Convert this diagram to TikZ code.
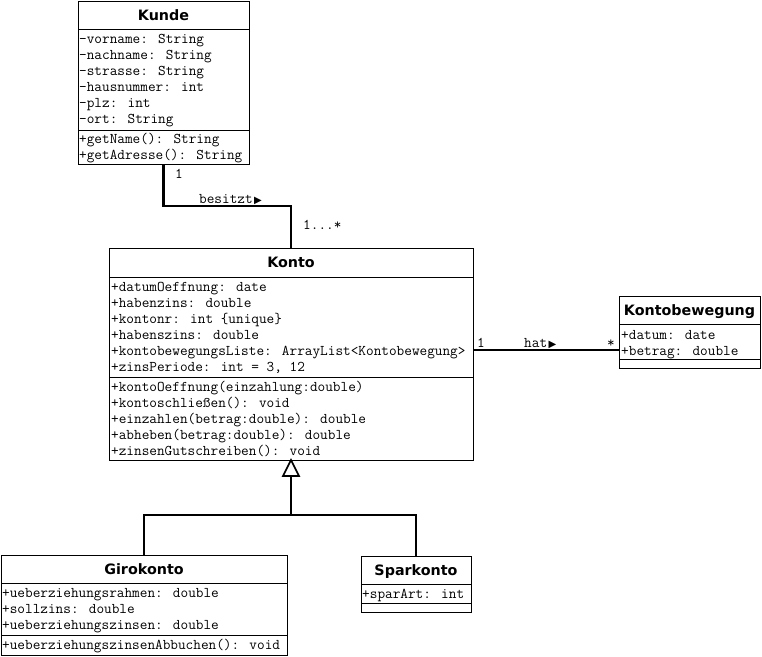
\documentclass[tikz,border=0pt]{standalone}
\usepackage{fontspec}
\newfontfamily\umlmono{Latin Modern Mono}
\newfontfamily\umlsans{DejaVu Sans}
\usetikzlibrary{calc}
\newcommand\readdirmark{{\umlsans\fontsize{10}{10}\selectfont ▶}}
\begin{document}
\begin{tikzpicture}[x=1pt,y=-1pt,
  classbox/.style={draw, line width=1pt, fill=white, anchor=north west, inner sep=0pt, outer sep=0pt},
  compart/.style={line width=1pt},
  member/.style={anchor=base west, inner sep=0pt, font=\umlmono\fontsize{14.85}{16}\selectfont},
  classname/.style={anchor=base, inner sep=0pt, font=\umlsans\bfseries\fontsize{14.3}{17}\selectfont},
  link/.style={line width=2.5pt}
]
\useasboundingbox (0,0) rectangle (762,656);

% ---------- Kunde ----------
\node[classbox, minimum width=171pt, minimum height=163pt] (kunde) at (78,1) {};
\node[classname] (kunde-t) at (163.5,20.5) {Kunde};
\draw[compart] (78,29) -- (249,29);
\draw[compart] (78,130) -- (249,130);
\node[member] (kunde-a1) at (79,43.5) {-vorname: String};
\node[member] (kunde-a2) at (79,59.5) {-nachname: String};
\node[member] (kunde-a3) at (79,75.5) {-strasse: String};
\node[member] (kunde-a4) at (79,91.5) {-hausnummer: int};
\node[member] (kunde-a5) at (79,107.5) {-plz: int};
\node[member] (kunde-a6) at (79,123.5) {-ort: String};
\node[member] (kunde-m1) at (79,143.5) {+getName(): String};
\node[member] (kunde-m2) at (79,159.5) {+getAdresse(): String};

% ---------- Konto ----------
\node[classbox, minimum width=364pt, minimum height=212pt] (konto) at (109,248) {};
\node[classname] (konto-t) at (291,267.5) {Konto};
\draw[compart] (109,277) -- (473,277);
\draw[compart] (109,377) -- (473,377);
\node[member] (konto-a1) at (111,291.5) {+datumOeffnung: date};
\node[member] (konto-a2) at (111,307.5) {+habenzins: double};
\node[member] (konto-a3) at (111,323.5) {+kontonr: int \{unique\}};
\node[member] (konto-a4) at (111,339.5) {+habenszins: double};
\node[member] (konto-a5) at (111,355.5) {+kontobewegungsListe: ArrayList<Kontobewegung>};
\node[member] (konto-a6) at (111,371.5) {+zinsPeriode: int = 3, 12};
\node[member] (konto-m1) at (111,391.5) {+kontoOeffnung(einzahlung:double)};
\node[member] (konto-m2) at (111,407.5) {+kontoschließen(): void};
\node[member] (konto-m3) at (111,423.5) {+einzahlen(betrag:double): double};
\node[member] (konto-m4) at (111,439.5) {+abheben(betrag:double): double};
\node[member] (konto-m5) at (111,455.5) {+zinsenGutschreiben(): void};

% ---------- Kontobewegung ----------
\node[classbox, minimum width=141pt, minimum height=72pt] (kbew) at (619,296) {};
\node[classname] (kbew-t) at (689.5,315.5) {Kontobewegung};
\draw[compart] (619,324) -- (760,324);
\draw[compart] (619,359) -- (760,359);
\node[member] (kbew-a1) at (621,339.5) {+datum: date};
\node[member] (kbew-a2) at (621,355.5) {+betrag: double};

% ---------- Girokonto ----------
\node[classbox, minimum width=286pt, minimum height=100pt] (giro) at (1,555) {};
\node[classname] (giro-t) at (144,574.5) {Girokonto};
\draw[compart] (1,583) -- (287,583);
\draw[compart] (1,635) -- (287,635);
\node[member] (giro-a1) at (2,597.5) {+ueberziehungsrahmen: double};
\node[member] (giro-a2) at (2,613.5) {+sollzins: double};
\node[member] (giro-a3) at (2,629.5) {+ueberziehungszinsen: double};
\node[member] (giro-m1) at (2,649.5) {+ueberziehungszinsenAbbuchen(): void};

% ---------- Sparkonto ----------
\node[classbox, minimum width=110pt, minimum height=56pt] (spar) at (361,556) {};
\node[classname] (spar-t) at (416,575.5) {Sparkonto};
\draw[compart] (361,584) -- (471,584);
\draw[compart] (361,603) -- (471,603);
\node[member] (spar-a1) at (362,598.5) {+sparArt: int};

% ---------- Association: Kunde besitzt Konto ----------
\coordinate (bend1) at (291,206);
\draw[link] (kunde.south) |- (bend1) -- (konto.north);
\node[member] (mult-k1) at (175,178) {1};
\node[member] (besitzt) at (199,203) {besitzt\hspace{1.5pt}\readdirmark};
\node[member] (mult-k2) at (303,229) {1...*};

% ---------- Association: Konto hat Kontobewegung ----------
\coordinate (hatrow) at (0,350);
\draw[link] (konto.east |- hatrow) -- (kbew.west |- hatrow);
\node[member] (mult-h1) at (477,347) {1};
\node[member] (hat) at (524,347) {hat\hspace{1.5pt}\readdirmark};
\node[member] (mult-h2) at (607,347) {*};

% ---------- Generalization ----------
\coordinate (gjoin) at (291,515);
\draw[link] (giro.north) |- (gjoin) -| (spar.north);
\draw[link] (gjoin) -- ($(konto.south)+(0,16)$);
\draw[line width=1.6pt, fill=white, line join=miter] (konto.south) -- ++(-8,16) -- ++(16,0) -- cycle;
\end{tikzpicture}
\end{document}
